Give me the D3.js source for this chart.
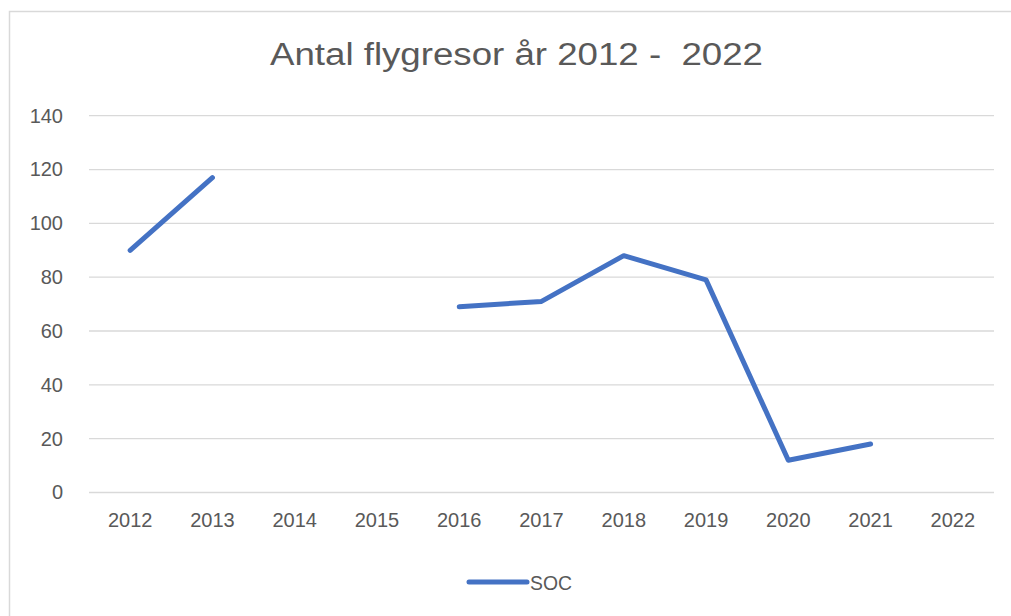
<!DOCTYPE html>
<html>
<head>
<meta charset="utf-8">
<script src="https://cdn.jsdelivr.net/npm/d3@7"></script>
<style>
    html, body { margin: 0; padding: 0; background: #fff; }
    svg { display: block; }
    text { font-family: "Liberation Sans", Arial, sans-serif; }
</style>
</head>
<body>
<script>
(function() {
    // chart data
    var years = ["2012", "2013", "2014", "2015", "2016", "2017", "2018", "2019", "2020", "2021", "2022"];
    var soc = [90, 117, null, null, 69, 71, 88, 79, 12, 18, null];
    var yTicks = [0, 20, 40, 60, 80, 100, 120, 140];
    var seriesName = "SOC";
    var title = "Antal flygresor år 2012 -  2022";

    // layout
    var width = 1011, height = 616;
    var plot = { left: 89, right: 994, top: 115.7, bottom: 492.5 };
    var gray = "#595959";
    var blue = "#4472c4";

    var svg = d3.select("body").append("svg")
        .attr("width", width)
        .attr("height", height);

    // chart frame (left and top edges visible)
    svg.append("path")
        .attr("d", "M9.5," + height + "V11.5H" + width)
        .attr("fill", "none")
        .attr("stroke", "#d9d9d9")
        .attr("stroke-width", 1.5);

    var x = d3.scaleBand()
        .domain(years)
        .range([plot.left, plot.right]);

    var y = d3.scaleLinear()
        .domain([0, 140])
        .range([plot.bottom, plot.top]);

    // gridlines
    svg.append("g")
        .selectAll("line")
        .data(yTicks)
        .enter()
            .append("line")
            .attr("x1", plot.left)
            .attr("x2", plot.right)
            .attr("y1", function(d) { return y(d); })
            .attr("y2", function(d) { return y(d); })
            .attr("stroke", "#d9d9d9")
            .attr("stroke-width", 1.3);

    // y axis labels
    var yAxis = svg.append("g")
        .attr("transform", "translate(63,0)")
        .call(d3.axisLeft(y).tickValues(yTicks).tickSize(0).tickPadding(0));
    yAxis.select(".domain").remove();
    yAxis.selectAll("text")
        .attr("fill", gray)
        .attr("font-size", 20);

    // x axis labels
    var xAxis = svg.append("g")
        .attr("transform", "translate(0," + (plot.bottom + 20) + ")")
        .call(d3.axisBottom(x).tickSize(0).tickPadding(0));
    xAxis.select(".domain").remove();
    xAxis.selectAll("text")
        .attr("fill", gray)
        .attr("font-size", 20);

    // series line (gaps where data is missing)
    var line = d3.line()
        .defined(function(d) { return d != null; })
        .x(function(d, i) { return x(years[i]) + x.bandwidth() / 2; })
        .y(function(d) { return y(d); });

    svg.append("path")
        .datum(soc)
        .attr("d", line)
        .attr("fill", "none")
        .attr("stroke", blue)
        .attr("stroke-width", 5)
        .attr("stroke-linejoin", "round")
        .attr("stroke-linecap", "round");

    // title
    svg.append("text")
        .attr("x", 516.5)
        .attr("y", 65)
        .attr("text-anchor", "middle")
        .attr("fill", gray)
        .attr("font-size", 31)
        .attr("textLength", 493)
        .attr("lengthAdjust", "spacingAndGlyphs")
        .style("white-space", "pre")
        .text(title);

    // legend
    var legend = svg.append("g").attr("transform", "translate(469,582)");
    legend.append("line")
        .attr("x1", 0)
        .attr("x2", 58)
        .attr("stroke", blue)
        .attr("stroke-width", 5)
        .attr("stroke-linecap", "round");
    legend.append("text")
        .attr("x", 61)
        .attr("y", 7.5)
        .attr("fill", gray)
        .attr("font-size", 20)
        .attr("textLength", 42)
        .attr("lengthAdjust", "spacingAndGlyphs")
        .text(seriesName);
})()
</script>
</body>
</html>
